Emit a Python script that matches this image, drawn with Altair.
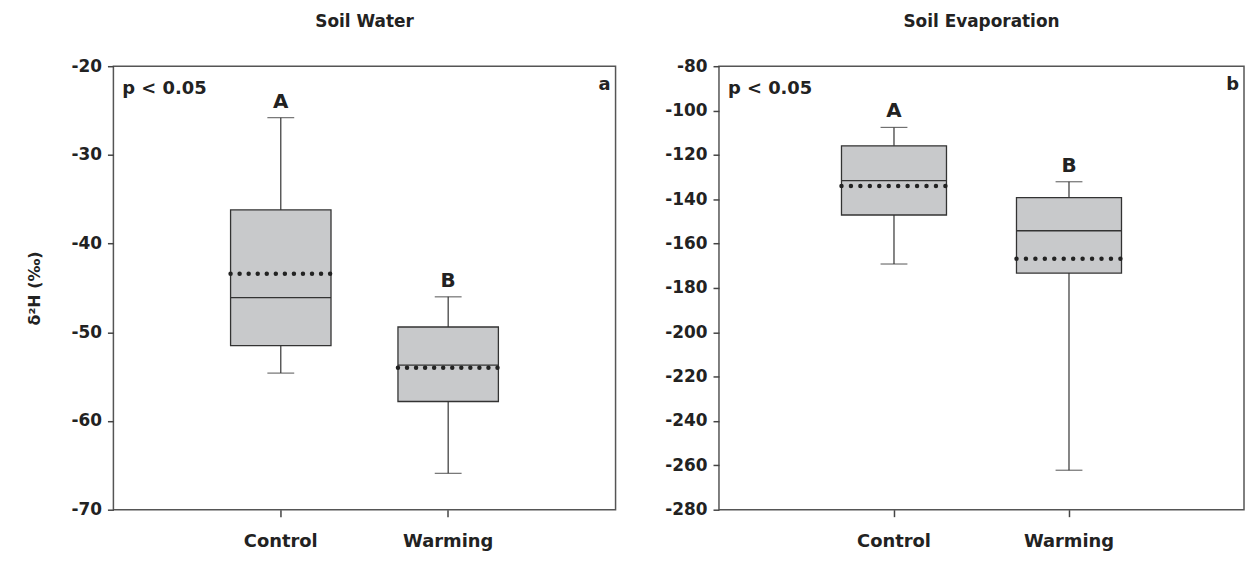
import altair as alt
import pandas as pd

FONT = "DejaVu Sans"
INK = "#222222"

groups = ["Control", "Warming"]

# Soil Water (panel a)
sw_low = [-54.6, -65.9]
sw_q1 = [-51.5, -57.8]
sw_median = [-46.1, -53.7]
sw_q3 = [-36.2, -49.4]
sw_high = [-25.8, -46.0]
sw_mean = [-43.4, -54.0]
sw_letters = ["A", "B"]

# Soil Evaporation (panel b)
se_low = [-169.2, -262.2]
se_q1 = [-147.1, -173.3]
se_median = [-131.6, -154.2]
se_q3 = [-115.9, -139.3]
se_high = [-107.6, -132.1]
se_mean = [-134.0, -166.8]
se_letters = ["A", "B"]

sw_ticks = [-70, -60, -50, -40, -30, -20]
se_ticks = [-280, -260, -240, -220, -200, -180, -160, -140, -120, -100, -80]


def make_df(low, q1, med, q3, high, mean, letters):
    return pd.DataFrame({
        "group": groups, "low": low, "q1": q1, "median": med,
        "q3": q3, "high": high, "mean": mean, "letter": letters,
    })


def panel(df, title, domain, ticks, tag, width, height, dot_gap, ytitle):
    xscale = alt.Scale(domain=groups, paddingInner=0.4, paddingOuter=0.7)
    xaxis = alt.Axis(title=None, labelAngle=0, labelFont=FONT, labelFontSize=18,
                     labelFontWeight="bold", labelColor=INK, labelPadding=16,
                     tickSize=7, tickColor="#444", tickWidth=1.5, domain=False,
                     grid=False)
    yscale = alt.Scale(domain=domain, nice=False, zero=False)
    yaxis = alt.Axis(values=ticks, title=ytitle, labelFont=FONT, labelFontSize=17,
                     labelFontWeight="bold", labelColor=INK, labelPadding=6,
                     labelExpr="'' + datum.value",
                     tickSize=6, tickColor="#444", tickWidth=1.5, domain=False,
                     grid=False, titleFont=FONT, titleFontSize=16,
                     titleFontWeight="bold", titleColor=INK, titlePadding=29)
    base = alt.Chart(df)
    x = alt.X("group:N", scale=xscale, axis=xaxis, sort=groups)

    box = base.mark_bar(fill="#c8c9cb", stroke="#333333", strokeWidth=1.3).encode(
        x=x, y=alt.Y("q1:Q", scale=yscale, axis=yaxis), y2="q3:Q")
    whisk_lo = base.mark_rule(color="#333333", strokeWidth=1.2).encode(
        x=alt.X("group:N"), y="low:Q", y2="q1:Q")
    whisk_hi = base.mark_rule(color="#333333", strokeWidth=1.2).encode(
        x=alt.X("group:N"), y="q3:Q", y2="high:Q")
    cap_lo = base.mark_tick(color="#333333", size=27, thickness=1.2).encode(
        x=alt.X("group:N"), y="low:Q")
    cap_hi = base.mark_tick(color="#333333", size=27, thickness=1.2).encode(
        x=alt.X("group:N"), y="high:Q")
    med = base.mark_rule(color="#333333", strokeWidth=1.3).encode(
        x=alt.X("group:N", bandPosition=0), x2=alt.X2("group", bandPosition=1),
        y="median:Q")
    mean = base.mark_rule(color=INK, strokeWidth=4.5, strokeCap="round",
                          strokeDash=[0, dot_gap]).encode(
        x=alt.X("group:N", bandPosition=0), x2=alt.X2("group", bandPosition=1),
        y="mean:Q")
    letters = base.mark_text(font=FONT, fontSize=20, fontWeight="bold", color=INK,
                             baseline="bottom", dy=-6).encode(
        x=alt.X("group:N"), y="high:Q", text="letter:N")

    ann = pd.DataFrame({"t": ["p < 0.05"]})
    ptext = alt.Chart(ann).mark_text(font=FONT, fontSize=18, fontWeight="bold",
                                     color=INK, align="left", baseline="middle").encode(
        x=alt.value(9), y=alt.value(23), text="t:N")
    tg = pd.DataFrame({"t": [tag]})
    tagtext = alt.Chart(tg).mark_text(font=FONT, fontSize=18, fontWeight="bold",
                                      color=INK, align="right", baseline="middle").encode(
        x=alt.value(width - 5), y=alt.value(19), text="t:N")

    return alt.layer(box, whisk_lo, whisk_hi, cap_lo, cap_hi, med, mean, letters,
                     ptext, tagtext).properties(
        width=width, height=height,
        title=alt.TitleParams(title, font=FONT, fontSize=17, fontWeight="bold",
                              color=INK, offset=26, anchor="middle"))


sw = make_df(sw_low, sw_q1, sw_median, sw_q3, sw_high, sw_mean, sw_letters)
se = make_df(se_low, se_q1, se_median, se_q3, se_high, se_mean, se_letters)

left = panel(sw, "Soil Water", [-70, -20], sw_ticks, "a", 505, 446, 9.1, "δ²H (‰)")
right = panel(se, "Soil Evaporation", [-280, -80], se_ticks, "b", 528, 446, 9.5, None)

chart = alt.hconcat(left, right, spacing=47).configure_view(
    stroke="#555555", strokeWidth=1.5).properties(
    padding={"left": 17, "top": 3, "right": 0, "bottom": 0})

chart.save("out.html", embed_options={"renderer": "svg", "actions": False})
